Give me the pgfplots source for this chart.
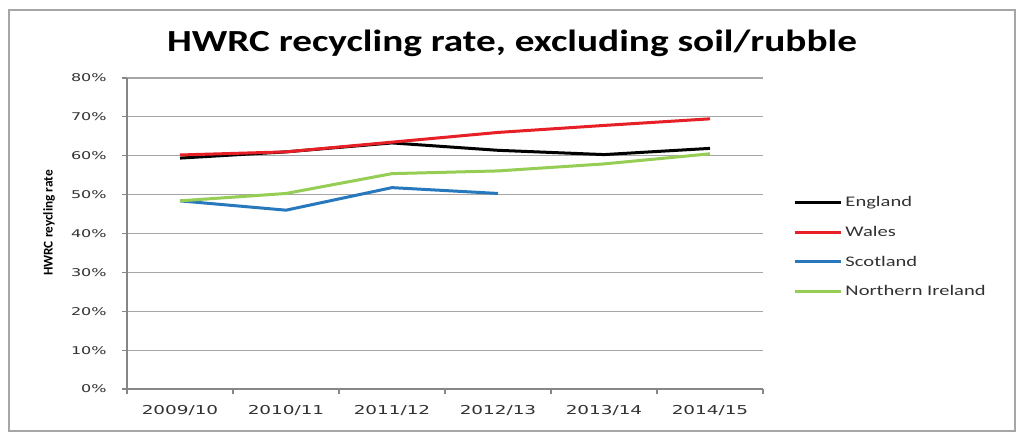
\documentclass[border=0pt]{standalone}
\usepackage{pgfplots}
\pgfplotsset{compat=1.18}
\usepackage{fontspec}
\setmainfont{Carlito}
\newfontfamily\titlefont{Carlito}[FakeStretch=1.28]
\newfontfamily\legfont{Carlito}[FakeStretch=1.4]
\newfontfamily\tickfont{DejaVu Sans}[FakeStretch=1.5]
\newfontfamily\ylabfont{Carlito}
\definecolor{cEng}{RGB}{0,0,0}
\definecolor{cWal}{RGB}{230,32,38}
\definecolor{cSco}{RGB}{40,120,190}
\definecolor{cNI}{RGB}{150,205,85}
\definecolor{gridc}{RGB}{166,166,166}
\definecolor{axisc}{RGB}{134,134,134}
\definecolor{txt}{RGB}{50,50,50}
\begin{document}
\begin{tikzpicture}
\useasboundingbox (0,0) rectangle (768pt,329.25pt);
\fill[white] (0,0) rectangle (768pt,329.25pt);
\draw[color=gridc, line width=1.1pt] (6.75pt,6pt) rectangle (761.25pt,321.75pt);
\node[anchor=base, font=\titlefont\bfseries\fontsize{23}{27}\selectfont, text=black] at (384pt,290.5pt) {HWRC recycling rate, excluding soil/rubble};
\begin{axis}[
  at={(95.25pt,37.5pt)}, anchor=south west,
  scale only axis, width=477pt, height=233.25pt,
  xmin=-0.5, xmax=5.5, ymin=0, ymax=80,
  axis x line*=bottom, axis y line*=left,
  axis line style={-, color=axisc, line width=0.8pt},
  xtick={0,1,2,3,4,5},
  xticklabels={2009/10,2010/11,2011/12,2012/13,2013/14,2014/15},
  minor xtick={-0.5,0.5,1.5,2.5,3.5,4.5,5.5},
  major x tick style={draw=none},
  minor x tick style={color=axisc, line width=0.8pt},
  ytick={0,10,...,80},
  yticklabels={0\%,10\%,20\%,30\%,40\%,50\%,60\%,70\%,80\%},
  major y tick style={color=axisc, line width=0.8pt},
  tick align=outside,
  major tick length=3.75pt, minor tick length=3.75pt,
  ymajorgrids, grid style={color=gridc, line width=0.8pt},
  xticklabel style={font=\tickfont\fontsize{9.2}{11}\selectfont, text=txt, yshift=-5pt},
  yticklabel style={font=\tickfont\fontsize{8}{10}\selectfont, text=txt, xshift=-8pt},
  ylabel={HWRC reycling rate},
  ylabel style={at={(axis description cs:-0.1226,0.534)}, anchor=center, font=\ylabfont\bfseries\fontsize{10}{12}\selectfont},
  legend style={at={(rel axis cs:1.047,0.63)}, anchor=north west, draw=none, fill=none,
    font=\legfont\fontsize{11}{13}\selectfont, text=txt, row sep=9.3pt, inner sep=0pt},
  legend cell align=left,
  legend image code/.code={\draw[#1, line width=2.25pt] (0pt,0pt) -- (35pt,0pt);},
  every axis plot/.append style={line width=2.25pt, line join=round},
  clip=false,
]
\addplot[color=cEng] coordinates {(0,59.4) (1,61.0) (2,63.3) (3,61.4) (4,60.3) (5,61.9)};
\addlegendentry{England}
\addplot[color=cWal] coordinates {(0,60.2) (1,61.0) (2,63.5) (3,66.0) (4,67.8) (5,69.5)};
\addlegendentry{Wales}
\addplot[color=cSco] coordinates {(0,48.4) (1,46.0) (2,51.8) (3,50.3)};
\addlegendentry{Scotland}
\addplot[color=cNI] coordinates {(0,48.4) (1,50.3) (2,55.4) (3,56.1) (4,57.9) (5,60.5)};
\addlegendentry{Northern Ireland}
\end{axis}
\end{tikzpicture}
\end{document}
